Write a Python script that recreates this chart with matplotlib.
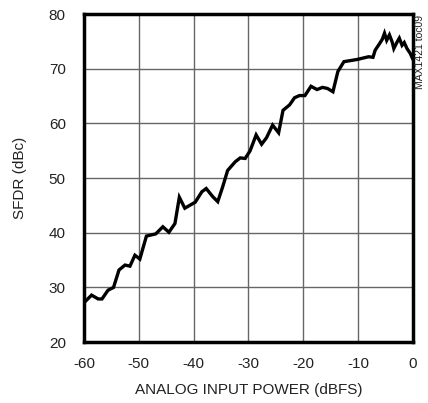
import numpy as np
import matplotlib
matplotlib.use("Agg")
import matplotlib.pyplot as plt

# SFDR vs analog input power
power_dbfs = [-59.8, -58.6, -57.4, -56.7, -55.6, -54.6, -53.6, -52.5, -51.6, -50.7,
              -49.8, -48.6, -46.9, -45.6, -44.5, -43.4, -42.6, -41.6, -39.7, -38.5,
              -37.7, -36.5, -35.6, -34.7, -33.8, -32.4, -31.5, -30.6, -29.7, -28.6,
              -27.6, -26.7, -25.6, -24.5, -23.7, -22.5, -21.6, -20.7, -19.7, -18.6,
              -17.5, -16.5, -15.6, -14.6, -13.7, -12.6, -10.2, -8.1, -7.3, -6.9,
              -6.1, -5.6, -5.2, -4.8, -4.3, -3.8, -3.5, -2.9, -2.5, -2.0,
              -1.6, -1.1, -0.5, -0.1]
sfdr_dbc = [27.4, 28.6, 27.9, 27.9, 29.5, 30.0, 33.2, 34.1, 33.9, 35.9,
            35.2, 39.4, 39.8, 41.1, 40.1, 41.7, 46.5, 44.5, 45.6, 47.5,
            48.1, 46.6, 45.7, 48.4, 51.4, 53.0, 53.7, 53.6, 55.0, 57.9,
            56.2, 57.4, 59.7, 58.3, 62.4, 63.4, 64.7, 65.1, 65.1, 66.8,
            66.2, 66.6, 66.4, 65.8, 69.5, 71.3, 71.7, 72.2, 72.1, 73.4,
            74.6, 75.4, 76.5, 75.2, 76.2, 74.9, 73.7, 74.9, 75.6, 74.3,
            74.8, 73.7, 72.8, 71.9]

x_ticks = [-60, -50, -40, -30, -20, -10, 0]
y_ticks = [20, 30, 40, 50, 60, 70, 80]

plt.rcParams['font.family'] = ['Liberation Sans', 'DejaVu Sans']
plt.rcParams['axes.unicode_minus'] = False

fig = plt.figure(figsize=(4.28, 4.03), dpi=100)
ax = fig.add_axes([0.196, 0.151, 0.769, 0.814])

ax.plot(power_dbfs, sfdr_dbc, color='black', linewidth=2.4, solid_joinstyle='miter', zorder=3)

ax.set_xlim(-60, 0)
ax.set_ylim(20, 80)
ax.set_xticks(x_ticks)
ax.set_yticks(y_ticks)
ax.grid(True, color='#666666', linewidth=1.0)
ax.tick_params(length=0, labelsize=11, colors='#222222')
ax.tick_params(axis='x', pad=11)
ax.tick_params(axis='y', pad=13)
for s in ax.spines.values():
    s.set_linewidth(2.5)
    s.set_color('black')

ax.set_xlabel('ANALOG INPUT POWER (dBFS)', fontsize=11, color='#222222', labelpad=8)
ax.set_ylabel('SFDR (dBc)', fontsize=11, color='#222222', labelpad=16)

fig.text(0.982, 0.962, 'MAX1421 toc09', rotation=90, ha='center', va='top',
         fontsize=7.5, color='#222222')

fig.savefig('out.png', dpi=100)
